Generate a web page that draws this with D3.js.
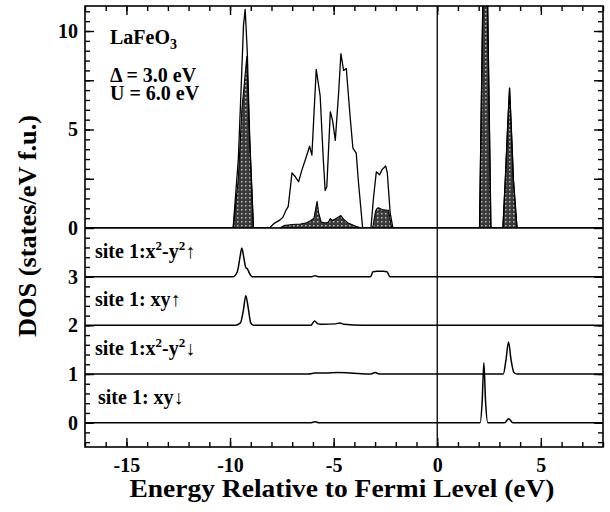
<!DOCTYPE html>
<html>
<head>
<meta charset="utf-8">
<script src="https://cdn.jsdelivr.net/npm/d3@7"></script>
<style>
  body { margin: 0; background: #fff; }
  svg { display: block; }
  text { font-family: "Liberation Serif", "Times New Roman", serif; font-weight: bold; fill: #000; }
</style>
</head>
<body>
<svg id="chart" width="610" height="512"></svg>
<script>
// Total DOS (outline) of LaFeO3
const totalE = [-17, -9.85, -9.6, -9.45, -9.35, -9.27, -9.17, -9.05, -8.87, -8.1, -7.85, -7.6, -7.45, -7.3, -7.19, -7.01, -6.85, -6.69, -6.53, -6.37, -6.16, -6.05, -5.84, -5.65, -5.5, -5.41, -5.33, -5.16, -5.05, -4.92, -4.76, -4.65, -4.52, -4.39, -4.2, -4.07, -3.91, -3.8, -3.6, -3.2, -3.07, -2.94, -2.78, -2.67, -2.49, -2.41, -2.27, -2.14, 2.04, 2.2, 2.32, 2.43, 2.59, 3.17, 3.3, 3.4, 3.49, 3.57, 3.68, 3.85, 8];
const totalDOS = [0, 0, 3.5, 7.5, 10.3, 11.1, 9, 4.5, 0, 0, 0.25, 0.4, 0.55, 0.9, 1.1, 2.8, 2.6, 2.35, 2.95, 3.45, 4.15, 3.7, 8.05, 6.7, 3.5, 1.9, 2.1, 5.9, 5.45, 4.45, 6.85, 8.85, 8.0, 8.1, 5.6, 4.05, 3.8, 2.3, 0, 0, 1.6, 2.85, 2.7, 2.95, 3.15, 2.8, 0.75, 0, 0, 11.5, 19.5, 11.5, 0, 0, 2.8, 5.2, 7.1, 5.2, 2.4, 0, 0];

// Fe d partial DOS (shaded)
const partialE = [-17, -9.85, -9.6, -9.43, -9.19, -9.05, -8.87, -7.6, -7.4, -7.0, -6.6, -6.3, -6.1, -5.95, -5.8, -5.72, -5.6, -5.4, -5.25, -5.16, -5.06, -4.86, -4.65, -4.52, -4.3, -3.9, -3.65, -3.12, -2.98, -2.9, -2.83, -2.62, -2.35, -2.2, 2.04, 2.2, 2.32, 2.43, 2.59, 3.17, 3.3, 3.4, 3.49, 3.57, 3.68, 3.85, 8];
const partialDOS = [0, 0, 2.5, 6.0, 8.7, 4.5, 0, 0, 0.12, 0.18, 0.2, 0.27, 0.38, 0.5, 1.35, 0.75, 0.3, 0.25, 0.3, 0.48, 0.38, 0.5, 0.63, 0.45, 0.25, 0.08, 0, 0, 0.85, 1.0, 1.03, 0.92, 0.9, 0, 0, 11.5, 19.5, 11.5, 0, 0, 2.8, 5.2, 7.1, 5.2, 2.4, 0, 0];

// Site-1 orbital projections (stacked with offsets 3, 2, 1, 0)
const x2y2UpE = [-17, -9.85, -9.65, -9.52, -9.43, -9.34, -9.25, -9.15, -9.05, -8.93, -6.05, -5.9, -5.75, -3.22, -3.1, -2.9, -2.6, -2.43, -2.28, 8];
const x2y2UpDOS = [0, 0, 0.1, 0.4, 0.59, 0.4, 0.2, 0.15, 0.06, 0, 0, 0.02, 0, 0, 0.1, 0.11, 0.11, 0.1, 0, 0];
const xyUpE = [-17, -9.75, -9.5, -9.36, -9.24, -9.12, -9.0, -8.88, -6.1, -5.92, -5.75, -5.5, -4.9, -4.7, -4.5, -3.6, 8];
const xyUpDOS = [0, 0, 0.05, 0.3, 0.61, 0.35, 0.05, 0, 0, 0.09, 0.03, 0.02, 0.03, 0.05, 0.02, 0, 0];
const x2y2DnE = [-17, -6.2, -5.9, -5.4, -4.8, -4.2, -3.2, -3.0, -2.8, 3.19, 3.32, 3.44, 3.56, 3.7, 3.85, 8];
const x2y2DnDOS = [0, 0, 0.02, 0.02, 0.03, 0.02, 0, 0.03, 0, 0, 0.3, 0.66, 0.3, 0.03, 0, 0];
const xyDnE = [-17, -6.1, -5.9, -5.7, 2.07, 2.17, 2.25, 2.33, 2.44, 3.25, 3.45, 3.65, 8];
const xyDnDOS = [0, 0, 0.02, 0, 0, 0.45, 1.23, 0.45, 0, 0, 0.08, 0, 0];

const orbitalOffsets = [3, 2, 1, 0];
const energyTicks = [-15, -10, -5, 0, 5];
const totalTicks = [0, 5, 10];
const orbitalTicks = [0, 1, 2, 3];

const svg = d3.select("#chart");
const L = 85, R = 603, T = 6, M = 228, B = 447;

const x = d3.scaleLinear().domain([-17, 8]).range([L, R]);
const yTop = d3.scaleLinear().domain([0, 11.27]).range([M, T]);
const yBot = d3.scaleLinear().domain([-0.5, 4]).range([B, M]);

const defs = svg.append("defs");
const pat = defs.append("pattern").attr("id", "speckle")
  .attr("width", 4).attr("height", 4).attr("patternUnits", "userSpaceOnUse");
pat.append("rect").attr("width", 4).attr("height", 4).attr("fill", "#3a3a3a");
pat.append("rect").attr("x", 1).attr("y", 1).attr("width", 1.5).attr("height", 1.5).attr("fill", "#b8b8b8");

defs.append("clipPath").attr("id", "clipTop").append("rect")
  .attr("x", L).attr("y", T).attr("width", R - L).attr("height", M - T);
defs.append("clipPath").attr("id", "clipAll").append("rect")
  .attr("x", L).attr("y", T).attr("width", R - L).attr("height", B - T);

const zip = (es, vs) => es.map((e, i) => [e, vs[i]]);

// Upper panel: total DOS outline and shaded partial DOS
const gTop = svg.append("g").attr("clip-path", "url(#clipTop)");
const lineTop = d3.line().x(d => x(d[0])).y(d => yTop(d[1]));
const areaTop = d3.area().x(d => x(d[0])).y0(yTop(0)).y1(d => yTop(d[1]));

gTop.append("path").datum(zip(partialE, partialDOS))
  .attr("d", areaTop).attr("fill", "url(#speckle)").attr("stroke", "#000").attr("stroke-width", 1.1)
  .attr("stroke-linejoin", "round");
gTop.append("path").datum(zip(totalE, totalDOS))
  .attr("d", lineTop).attr("fill", "none").attr("stroke", "#000").attr("stroke-width", 1.3)
  .attr("stroke-linejoin", "round");

// Lower panel: orbital projections
const gBot = svg.append("g").attr("clip-path", "url(#clipAll)");
const orbitals = [
  zip(x2y2UpE, x2y2UpDOS),
  zip(xyUpE, xyUpDOS),
  zip(x2y2DnE, x2y2DnDOS),
  zip(xyDnE, xyDnDOS)
];
orbitals.forEach((pts, i) => {
  const off = orbitalOffsets[i];
  const ln = d3.line().curve(d3.curveMonotoneX).x(d => x(d[0])).y(d => yBot(off + d[1]));
  gBot.append("path").datum(pts).attr("d", ln)
    .attr("fill", "none").attr("stroke", "#000").attr("stroke-width", 1.5);
});

// Fermi level
svg.append("line").attr("x1", x(0)).attr("x2", x(0)).attr("y1", T).attr("y2", B)
  .attr("stroke", "#000").attr("stroke-width", 1.3);

// Axes with inward ticks
function styleAxis(g) {
  g.select(".domain").remove();
  g.selectAll(".tick line").attr("stroke", "#000").attr("stroke-width", 1.4);
  g.selectAll(".tick text").attr("font-size", 20).attr("font-family", null).attr("fill", "#000");
}
const minorE = d3.range(-17, 9, 1);
svg.append("g").attr("transform", `translate(0,${B})`)
  .call(d3.axisBottom(x).tickValues(minorE).tickSize(-5).tickFormat("")).call(styleAxis);
svg.append("g").attr("transform", `translate(0,${B})`)
  .call(d3.axisBottom(x).tickValues(energyTicks).tickSize(-9).tickPadding(11).tickFormat(d => String(d))).call(styleAxis);
svg.append("g").attr("transform", `translate(0,${T})`)
  .call(d3.axisTop(x).tickValues(minorE).tickSize(-5).tickFormat("")).call(styleAxis);
svg.append("g").attr("transform", `translate(0,${T})`)
  .call(d3.axisTop(x).tickValues(energyTicks).tickSize(-9).tickFormat("")).call(styleAxis);

const minorTop = d3.range(0.5, 11.01, 0.5);
const majorTop = [0, 2.5, 5, 7.5, 10];
const minorBot = d3.range(-0.4, 3.9, 0.2);
[[L, d3.axisLeft], [R, d3.axisRight]].forEach(([pos, ax]) => {
  const lab = pos === L;
  svg.append("g").attr("transform", `translate(${pos},0)`)
    .call(ax(yTop).tickValues(minorTop).tickSize(-5).tickFormat("")).call(styleAxis);
  svg.append("g").attr("transform", `translate(${pos},0)`)
    .call(ax(yTop).tickValues(majorTop).tickSize(-9).tickPadding(7)
      .tickFormat(d => lab && totalTicks.includes(d) ? d : "")).call(styleAxis);
  svg.append("g").attr("transform", `translate(${pos},0)`)
    .call(ax(yBot).tickValues(minorBot).tickSize(-5).tickFormat("")).call(styleAxis);
  svg.append("g").attr("transform", `translate(${pos},0)`)
    .call(ax(yBot).tickValues(orbitalTicks).tickSize(-9).tickPadding(7)
      .tickFormat(d => lab ? d : "")).call(styleAxis);
});

// Frame and panel divider
svg.append("rect").attr("x", L).attr("y", T).attr("width", R - L).attr("height", B - T)
  .attr("fill", "none").attr("stroke", "#000").attr("stroke-width", 1.6);
svg.append("line").attr("x1", L).attr("x2", R).attr("y1", M).attr("y2", M)
  .attr("stroke", "#000").attr("stroke-width", 1.6);

// Axis titles
svg.append("text").attr("x", 342).attr("y", 497).attr("text-anchor", "middle")
  .attr("font-size", 25).attr("textLength", 425).attr("lengthAdjust", "spacingAndGlyphs")
  .text("Energy Relative to Fermi Level (eV)");
svg.append("text").attr("transform", "translate(36,226) rotate(-90)").attr("text-anchor", "middle")
  .attr("font-size", 26).attr("textLength", 222).attr("lengthAdjust", "spacingAndGlyphs")
  .text("DOS (states/eV f.u.)");

// Panel annotations
const t1 = svg.append("text").attr("x", 110).attr("y", 44).attr("font-size", 20);
t1.append("tspan").text("LaFeO");
t1.append("tspan").attr("font-size", 14).attr("dy", 5).text("3");
svg.append("text").attr("x", 110).attr("y", 82).attr("font-size", 20).text("\u0394 = 3.0 eV");
svg.append("text").attr("x", 110).attr("y", 100).attr("font-size", 20).text("U = 6.0 eV");

function orbitalLabel(xp, yp, parts) {
  const t = svg.append("text").attr("x", xp).attr("y", yp).attr("font-size", 20);
  parts.forEach(p => {
    const s = t.append("tspan").text(p[0]);
    if (p[1] === "sup") s.attr("font-size", 13).attr("dy", -8);
    if (p[1] === "down") s.attr("dy", 8);
  });
}
orbitalLabel(95, 258, [["site 1:x"], ["2", "sup"], ["-y", "down"], ["2", "sup"], ["\u2191", "down"]]);
orbitalLabel(95, 306, [["site 1: xy\u2191"]]);
orbitalLabel(95, 355, [["site 1:x"], ["2", "sup"], ["-y", "down"], ["2", "sup"], ["\u2193", "down"]]);
orbitalLabel(98, 404, [["site 1: xy\u2193"]]);
</script>
</body>
</html>
